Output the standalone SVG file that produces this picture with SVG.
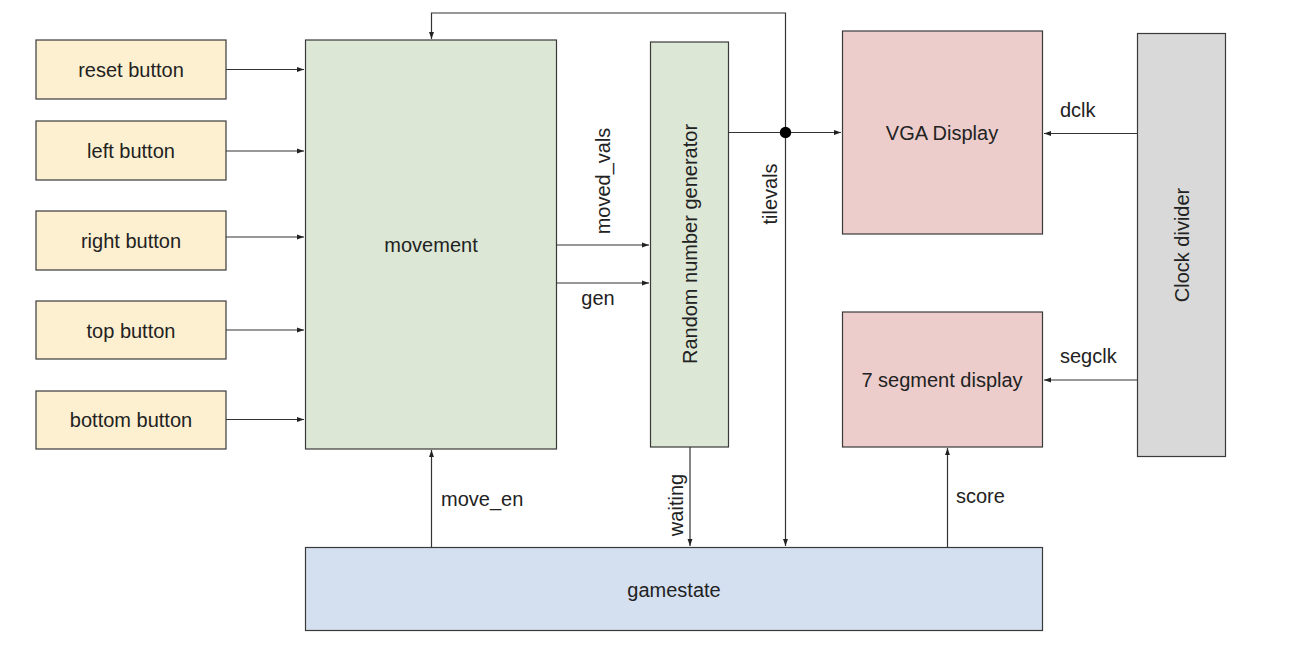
<svg xmlns="http://www.w3.org/2000/svg" width="1294" height="654" viewBox="0 0 1294 654">
<style>
.box{stroke:#3a3a3a;stroke-width:1.2}
.yel{fill:#fdf0d0}.grn{fill:#dce7d5}.pnk{fill:#eccdcc}.blu{fill:#d4e0f0}.gry{fill:#d9d9d9}
text{font-family:"Liberation Sans",Arial,sans-serif;font-size:20px;fill:#222}
.c{text-anchor:middle;dominant-baseline:central}
.l{dominant-baseline:central}
.wire{stroke:#333;stroke-width:1.2;fill:none}
</style>
<defs>
<marker id="ah" viewBox="0 0 10 10" refX="10" refY="5" markerWidth="7" markerHeight="7" markerUnits="userSpaceOnUse" orient="auto">
<path d="M0,1.5 L10,5 L0,8.5 z" fill="#222"/>
</marker>
</defs>
<rect width="1294" height="654" fill="#fff"/>
<g id="reset"><rect class="box yel" x="36" y="40" width="190" height="59"/><text class="c" x="131" y="70">reset button</text></g>
<g id="left"><rect class="box yel" x="36" y="121" width="190" height="59"/><text class="c" x="131" y="151">left button</text></g>
<g id="right"><rect class="box yel" x="36" y="211" width="190" height="59"/><text class="c" x="131" y="241">right button</text></g>
<g id="top"><rect class="box yel" x="36" y="301" width="190" height="58"/><text class="c" x="131" y="331">top button</text></g>
<g id="bottom"><rect class="box yel" x="36" y="391" width="190" height="58"/><text class="c" x="131" y="420">bottom button</text></g>
<g id="movement"><rect class="box grn" x="305.5" y="40" width="251" height="409"/><text class="c" x="431" y="245">movement</text></g>
<g id="rng"><rect class="box grn" x="650.5" y="42" width="78" height="405"/><text class="c" transform="translate(690,244) rotate(-90)">Random number generator</text></g>
<g id="vga"><rect class="box pnk" x="842.5" y="31" width="200" height="203"/><text class="c" x="942" y="133">VGA Display</text></g>
<g id="seg"><rect class="box pnk" x="842.5" y="312" width="200" height="135"/><text class="c" x="942" y="380">7 segment display</text></g>
<g id="clk"><rect class="box gry" x="1137.5" y="33.5" width="88" height="423"/><text class="c" transform="translate(1182,245) rotate(-90)">Clock divider</text></g>
<g id="gamestate"><rect class="box blu" x="305.5" y="547.5" width="737" height="83"/><text class="c" x="674" y="590">gamestate</text></g>
<g id="connectors">
<path class="wire" marker-end="url(#ah)" d="M226,69.5 H304"/>
<path class="wire" marker-end="url(#ah)" d="M226,151 H304"/>
<path class="wire" marker-end="url(#ah)" d="M226,237 H304"/>
<path class="wire" marker-end="url(#ah)" d="M226,330 H304"/>
<path class="wire" marker-end="url(#ah)" d="M226,419.5 H304"/>
<path class="wire" marker-end="url(#ah)" d="M556,245 H649"/>
<path class="wire" marker-end="url(#ah)" d="M556,283 H649"/>
<path class="wire" marker-end="url(#ah)" d="M728,132.5 H841"/>
<path class="wire" marker-end="url(#ah)" d="M785.5,132.5 V13 H431.5 V39"/>
<path class="wire" marker-end="url(#ah)" d="M785.5,132.5 V546"/>
<circle cx="785.5" cy="132.5" r="5.7" fill="#000"/>
<path class="wire" marker-end="url(#ah)" d="M1137,133.5 H1044"/>
<path class="wire" marker-end="url(#ah)" d="M1137,380 H1044"/>
<path class="wire" marker-end="url(#ah)" d="M431.5,547 V450"/>
<path class="wire" marker-end="url(#ah)" d="M690,447 V546"/>
<path class="wire" marker-end="url(#ah)" d="M947.5,547 V448"/>
<text class="c" transform="translate(603,181) rotate(-90)">moved_vals</text>
<text class="c" x="598" y="298">gen</text>
<text class="c" transform="translate(770,194) rotate(-90)">tilevals</text>
<text class="c" transform="translate(676,505) rotate(-90)">waiting</text>
<text class="l" x="441" y="499">move_en</text>
<text class="l" x="956" y="496">score</text>
<text class="l" x="1060" y="110">dclk</text>
<text class="l" x="1060" y="356">segclk</text>
</g>
</svg>
